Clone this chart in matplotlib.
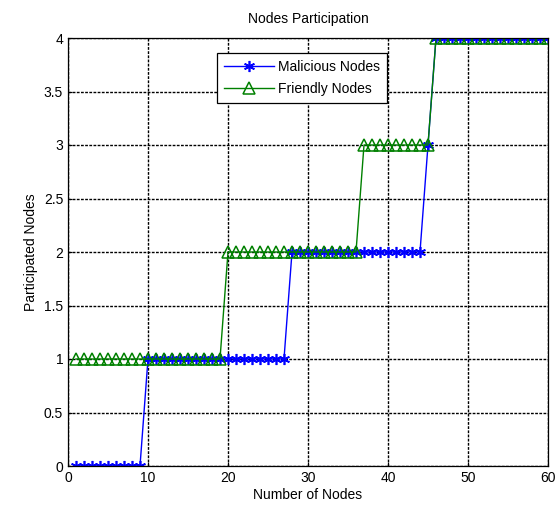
import numpy as np
import matplotlib
matplotlib.use("Agg")
import matplotlib.pyplot as plt

plt.rcParams['font.family'] = ['Liberation Sans', 'DejaVu Sans']

# data
nodes = np.arange(1, 61)
malicious = [0]*9 + [1]*18 + [2]*17 + [3] + [4]*15
friendly = [1]*19 + [2]*17 + [3]*9 + [4]*15

fig = plt.figure(figsize=(5.57, 5.12), dpi=100)
ax = fig.add_axes([68/557, 1 - 466/512, (548-68)/557, (466-38)/512])

ax.plot(nodes, malicious, color='blue', lw=1, marker=(6, 2, 0), ms=8,
        mew=1.2, label='Malicious Nodes')
ax.plot(nodes, friendly, color=(0, 0.5, 0), lw=1, marker='^', ms=8,
        mfc='none', mew=1.1, label='Friendly Nodes')

ax.set_xlim(0, 60)
ax.set_ylim(0, 4)
ax.set_xticks(np.arange(0, 61, 10))
ax.set_yticks(np.arange(0, 4.01, 0.5))
ax.set_yticklabels(['0', '0.5', '1', '1.5', '2', '2.5', '3', '3.5', '4'])
ax.grid(True, color='black', linestyle=(0, (2, 1)), lw=1.0)
ax.tick_params(labelsize=10, direction='in', length=3)
for s in ax.spines.values():
    s.set_linewidth(0.9)

ax.set_title('Nodes Participation', fontsize=10, pad=11)
ax.set_xlabel('Number of Nodes', fontsize=10, labelpad=2)
ax.set_ylabel('Participated Nodes', fontsize=10)

leg = ax.legend(loc='upper left', bbox_to_anchor=((217-68)/480, 1 - (53-38)/428),
                borderaxespad=0, fontsize=10, fancybox=False, framealpha=1,
                edgecolor='black', handlelength=3.6, borderpad=0.5,
                labelspacing=0.6, handletextpad=0.3)
leg.get_frame().set_linewidth(0.9)

plt.savefig('out.png', dpi=100)
